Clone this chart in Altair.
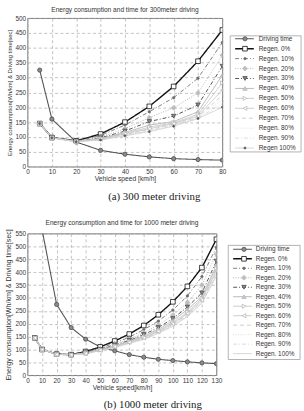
import altair as alt
import pandas as pd

# ---------------- data: 300 m run ----------------
speeds_a = [5, 10, 20, 30, 40, 50, 60, 70, 80]
a_time = [325, 160, 83, 55, 42, 33, 27, 24, 22]
a_regen0 = [145, 98, 87, 110, 150, 203, 270, 355, 460]
a_regen10 = [145, 98, 86, 105, 140, 185, 232, 298, 418]
a_regen20 = [145, 98, 85, 100, 128, 165, 198, 248, 375]
a_regen30 = [145, 98, 85, 97, 120, 152, 170, 208, 338]
a_regen40 = [145, 98, 85, 95, 115, 140, 152, 185, 308]
a_regen50 = [145, 97, 85, 94, 112, 133, 148, 176, 282]
a_regen60 = [145, 97, 85, 93, 110, 128, 145, 171, 258]
a_regen70 = [145, 97, 84, 92, 108, 125, 142, 168, 240]
a_regen80 = [145, 97, 84, 91, 106, 122, 140, 165, 225]
a_regen90 = [145, 97, 84, 90, 105, 120, 138, 163, 212]
a_regen100 = [145, 97, 84, 90, 104, 118, 136, 162, 200]
labels_a = ["Driving time", "Regen. 0%", "Regen. 10%", "Regen. 20%", "Regen. 30%",
            "Regen. 40%", "Regen. 50%", "Regen. 60%", "Regen. 70%", "Regen. 80%",
            "Regen. 90%", "Regen 100%"]

# ---------------- data: 1000 m run ----------------
speeds_b = [5, 10, 20, 30, 40, 50, 60, 70, 80, 90, 100, 110, 120, 130]
b_time = [1100, 565, 275, 185, 140, 110, 95, 80, 70, 62, 57, 52, 48, 45]
b_regen0 = [145, 100, 82, 80, 92, 110, 133, 160, 193, 235, 285, 345, 418, 528]
b_regen10 = [145, 100, 82, 80, 90, 105, 125, 148, 177, 210, 253, 308, 383, 497]
b_regen20 = [145, 100, 82, 80, 88, 102, 120, 140, 165, 195, 233, 282, 350, 470]
b_regen30 = [145, 100, 82, 80, 87, 100, 117, 135, 158, 185, 220, 265, 320, 443]
b_regen40 = [145, 100, 81, 79, 86, 99, 114, 132, 152, 178, 212, 255, 305, 425]
b_regen50 = [145, 100, 81, 79, 86, 98, 112, 130, 148, 173, 205, 245, 298, 415]
b_regen60 = [145, 100, 81, 79, 85, 97, 111, 128, 145, 170, 200, 240, 292, 405]
b_regen70 = [145, 100, 81, 79, 85, 97, 110, 127, 143, 168, 197, 236, 288, 398]
b_regen80 = [145, 100, 81, 79, 84, 96, 109, 126, 142, 166, 195, 233, 285, 392]
b_regen90 = [145, 100, 81, 79, 84, 96, 108, 125, 140, 165, 193, 230, 282, 388]
b_regen100 = [145, 100, 81, 79, 84, 95, 107, 124, 139, 163, 190, 228, 280, 385]
labels_b = ["Driving time", "Regen. 0%", "Regen. 10%", "Regen. 20%", "Regne. 30%",
            "Regen. 40%", "Regen. 50%", "Regen. 60%", "Regen. 70%", "Regen. 80%",
            "Regen. 90%", "Regen. 100%"]

# ---------------- series styling (legend order) ----------------
keys = ["11time", "10r0", "09r10", "08r20", "07r30", "06r40", "05r50",
        "04r60", "03r70", "02r80", "01r90", "00r100"]
line_color = ["#555555", "#111111", "#6e6e6e", "#b0b0b0", "#555555", "#b4b4b4",
              "#c4c4c4", "#c4c4c4", "#c8c8c8", "#dadada", "#d6d6d6", "#cfcfcf"]
line_dash = [[1, 0], [1, 0], [4, 2, 1, 2], [1, 1.5], [4, 2, 1, 2], [1, 0], [1, 0],
             [1, 0], [4, 3], [1, 1.5], [4, 2, 1, 2], [1, 0]]
line_width = [1.1, 1.4, 0.9, 0.9, 1.0, 1.0, 0.9, 0.9, 0.9, 0.9, 0.9, 0.9]
marker_shape = ["circle", "square", "circle", "cross", "triangle-down", "triangle-up",
                "triangle-right", "triangle-left", "circle", "circle", "circle", "circle"]
marker_fill = ["#8c8c8c", "#ffffff", "#6e6e6e", "#bdbdbd", "#8a8a8a", "#c8c8c8",
               "#ffffff", "#ffffff", "#ffffff", "#ffffff", "#ffffff", "#555555"]
marker_stroke = ["#4a4a4a", "#111111", "#6e6e6e", "#bdbdbd", "#4a4a4a", "#bdbdbd",
                 "#b8b8b8", "#b8b8b8", "#ffffff", "#ffffff", "#ffffff", "#555555"]
marker_size_a = [18, 22, 6, 16, 20, 20, 18, 18, 0, 0, 0, 4]
marker_size_b = [18, 22, 6, 16, 20, 20, 18, 18, 0, 0, 0, 0]

FONT = "Liberation Sans"
SERIF = "Liberation Serif"


def long_table(speeds, series, sizes):
    rows = []
    for k, vals, lw, ms in zip(keys, series, line_width, sizes):
        for s, v in zip(speeds, vals):
            rows.append({"series": k, "speed": s, "value": v, "lw": lw, "ms": ms})
    return pd.DataFrame(rows)


color_s = alt.Scale(domain=keys, range=line_color)
dash_s = alt.Scale(domain=keys, range=line_dash)
shape_s = alt.Scale(domain=keys, range=marker_shape)
fill_s = alt.Scale(domain=keys, range=marker_fill)
mstroke_s = alt.Scale(domain=keys, range=marker_stroke)


def plot_panel(df, xmax, ymax, w, h, title, xtitle, ytitle_size):
    base = alt.Chart(df).encode(
        x=alt.X("speed:Q", scale=alt.Scale(domain=[0, xmax], nice=False),
                axis=alt.Axis(values=list(range(0, xmax + 1, 10)), title=xtitle,
                              titleFontSize=6.8, titlePadding=1)),
        y=alt.Y("value:Q", scale=alt.Scale(domain=[0, ymax], nice=False),
                axis=alt.Axis(values=list(range(0, ymax + 1, 50)),
                              title="Energy consumption[Wh/km] & Driving time[sec]",
                              titleFontSize=ytitle_size, titlePadding=2)),
    )
    lines = base.mark_line(clip=True).encode(
        color=alt.Color("series:N", scale=color_s, legend=None),
        strokeDash=alt.StrokeDash("series:N", scale=dash_s, legend=None),
        strokeWidth=alt.StrokeWidth("lw:Q", scale=None),
        order=alt.Order("speed:Q"),
    )
    points = base.mark_point(clip=True, strokeWidth=0.8, opacity=1).encode(
        shape=alt.Shape("series:N", scale=shape_s, legend=None),
        fill=alt.Fill("series:N", scale=fill_s, legend=None),
        stroke=alt.Stroke("series:N", scale=mstroke_s, legend=None),
        size=alt.Size("ms:Q", scale=None),
    )
    return alt.layer(lines, points).properties(
        width=w, height=h,
        title=alt.TitleParams(title, font=FONT, fontSize=6.7, fontWeight="normal",
                              color="#333", offset=2, anchor="middle"),
    )


def legend_panel(labels, sizes, w, h, ydom, box, xs):
    ldf = pd.DataFrame({"series": keys, "label": labels, "idx": list(range(len(keys))),
                        "lw": line_width, "ms": sizes})
    ldf["x0"] = xs[0]
    ldf["x1"] = xs[1]
    ldf["xm"] = xs[2]
    ldf["xt"] = xs[3]
    xsc = alt.Scale(domain=[0, w], nice=False)
    ysc = alt.Scale(domain=ydom, reverse=True, nice=False, zero=False)
    frame = alt.Chart(alt.Data(values=[{"a": 1}])).mark_rect(
        fill="white", stroke="#a0a0a0", strokeWidth=0.8
    ).encode(x=alt.value(0), x2=alt.value(w), y=alt.value(box[0]), y2=alt.value(box[1]))
    base = alt.Chart(ldf).encode(
        y=alt.Y("idx:Q", scale=ysc, axis=None),
    )
    sample = base.mark_rule().encode(
        x=alt.X("x0:Q", scale=xsc, axis=None), x2="x1:Q",
        color=alt.Color("series:N", scale=color_s, legend=None),
        strokeDash=alt.StrokeDash("series:N", scale=dash_s, legend=None),
        strokeWidth=alt.StrokeWidth("lw:Q", scale=None),
    )
    marks = base.mark_point(strokeWidth=0.8, opacity=1).encode(
        x=alt.X("xm:Q", scale=xsc, axis=None),
        shape=alt.Shape("series:N", scale=shape_s, legend=None),
        fill=alt.Fill("series:N", scale=fill_s, legend=None),
        stroke=alt.Stroke("series:N", scale=mstroke_s, legend=None),
        size=alt.Size("ms:Q", scale=None),
    )
    text = base.mark_text(align="left", baseline="middle", font=FONT, fontSize=6.5,
                          color="#333").encode(
        x=alt.X("xt:Q", scale=xsc, axis=None),
        text="label:N",
    )
    return alt.layer(frame, sample, marks, text).properties(
        width=w, height=h, view=alt.ViewBackground(stroke="transparent"))


series_a = [a_time, a_regen0, a_regen10, a_regen20, a_regen30, a_regen40, a_regen50,
            a_regen60, a_regen70, a_regen80, a_regen90, a_regen100]
series_b = [b_time, b_regen0, b_regen10, b_regen20, b_regen30, b_regen40, b_regen50,
            b_regen60, b_regen70, b_regen80, b_regen90, b_regen100]

df_a = long_table(speeds_a, series_a, marker_size_a)
df_b = long_table(speeds_b, series_b, marker_size_b)

top = alt.hconcat(
    plot_panel(df_a, 80, 500, 198, 151,
               "Energy consumption and time for 300meter driving",
               "Vehicle speed [km/h]", 6.0),
    legend_panel(labels_a, marker_size_a, 72, 151, [-2.08, 12.88], [18, 136],
                 [5, 24, 15, 29]),
    spacing=2,
    title=alt.TitleParams("(a) 300 meter driving", orient="bottom", anchor="middle",
                          font=SERIF, fontSize=11, fontWeight="normal", color="#222",
                          offset=8),
)

bottom = alt.hconcat(
    plot_panel(df_b, 130, 550, 192, 144,
               "Energy consumption and time for 1000 meter driving",
               "Vehicle speed[km/h]", 7.2),
    legend_panel(labels_b, marker_size_b, 73, 144, [-1.66, 13.28], [12, 128],
                 [5, 24, 16, 28]),
    spacing=5,
    title=alt.TitleParams("(b) 1000 meter driving", orient="bottom", anchor="middle",
                          font=SERIF, fontSize=11, fontWeight="normal", color="#222",
                          offset=8),
)

chart = alt.vconcat(top, bottom, spacing=18).properties(
    padding={"left": 4, "top": 2, "right": 2, "bottom": 2},
    background="white",
).configure_view(
    stroke="#555555", strokeWidth=0.8
).configure_axis(
    grid=True, gridDash=[3, 2.5], gridColor="#a8a8a8", gridWidth=0.7, gridOpacity=1,
    ticks=False, domain=False, labelOverlap=False, labelFlush=False,
    labelFont=FONT, labelFontSize=6.5, labelColor="#333", labelPadding=2,
    titleFont=FONT, titleFontWeight="normal", titleColor="#333",
)

chart.save("out.html", embed_options={"renderer": "svg", "actions": False})
